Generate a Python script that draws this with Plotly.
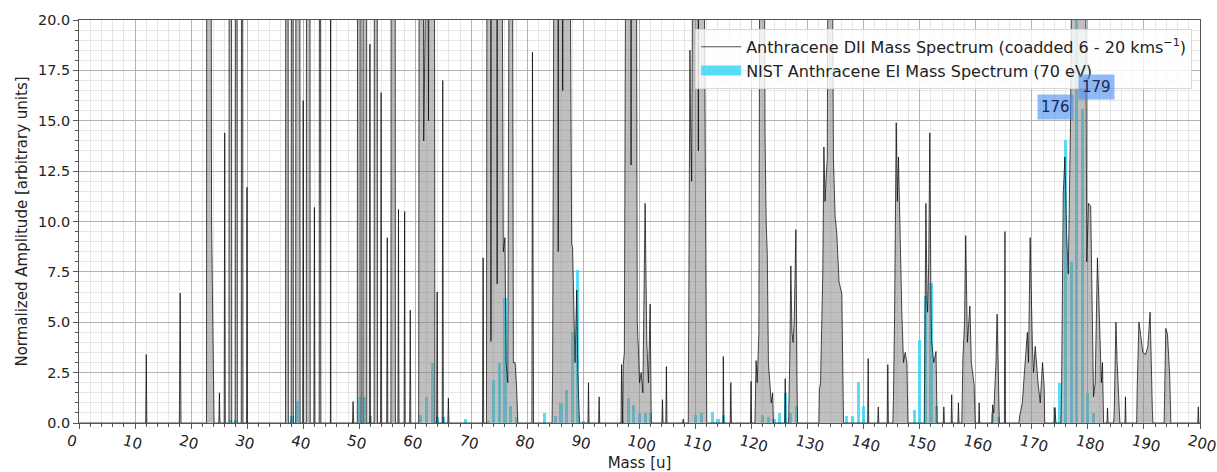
import plotly.graph_objects as go

# ---------------- DATA ----------------
# Anthracene DII mass spectrum (coadded) as (mass, amplitude) points.
# Values above 20 are off-scale (clipped at the top of the axis).
dii_00_35 = [(0, 0), (11.9, 0), (12.0, 3.4), (12.1, 0), (17.9, 0), (18.05, 6.45), (18.2, 0),
             (22.75, 0), (22.8, 30), (23.55, 30), (23.65, 10.0), (23.8, 6.1), (23.9, 5.0), (24.0, 3.1), (24.1, 0),
             (24.95, 0), (25.05, 1.5), (25.15, 0), (25.9, 0), (26.0, 14.4), (26.1, 0),
             (26.75, 0), (26.8, 30), (27.2, 30), (27.25, 0), (27.85, 0), (27.9, 30), (28.2, 30), (28.25, 0),
             (28.95, 0), (29.0, 30), (29.2, 30), (29.25, 0), (29.9, 0), (29.97, 11.7), (30.05, 0)]
dii_35_60 = [(36.85, 0), (36.9, 30), (37.3, 30), (37.35, 0), (37.85, 0), (37.9, 30), (38.2, 30), (38.25, 0),
             (38.65, 0), (38.7, 30), (39.4, 30), (39.45, 0), (39.9, 0), (40.0, 16.0), (40.1, 0),
             (40.55, 0), (40.6, 30), (41.2, 30), (41.25, 0), (41.9, 0), (42.0, 10.7), (42.1, 0),
             (42.85, 0), (42.9, 30), (43.1, 30), (43.15, 0), (44.85, 0), (44.9, 30), (44.95, 0),
             (48.8, 0), (48.9, 1.07), (49.0, 0), (49.65, 0), (49.7, 30), (50.3, 30), (50.35, 0),
             (50.65, 0), (50.7, 30), (51.3, 30), (51.35, 0), (51.8, 0), (51.9, 18.8), (52.0, 0),
             (52.65, 0), (52.7, 30), (53.2, 30), (53.25, 0), (53.8, 0), (53.9, 16.4), (54.0, 0),
             (54.9, 0), (55.0, 9.2), (55.1, 0), (55.65, 0), (55.7, 30), (56.4, 30), (56.45, 0),
             (56.9, 0), (57.0, 10.6), (57.05, 3.4), (57.1, 0), (58.0, 0), (58.1, 10.5), (58.2, 0),
             (59.0, 0), (59.1, 5.6), (59.2, 0)]
dii_60_95 = [(60.6, 0), (60.7, 30), (61.4, 30), (61.5, 14), (61.6, 30), (62.2, 30), (62.35, 15), (62.5, 30),
             (63.4, 30), (63.5, 0), (63.8, 0), (63.9, 6.5), (64.0, 0), (64.8, 0), (64.9, 17.0), (65.0, 0),
             (65.8, 0), (65.9, 1.24), (66.0, 0), (72.0, 0), (72.1, 8.2), (72.2, 0),
             (72.7, 0), (72.8, 30), (73.45, 30), (73.5, 4.05), (73.55, 30), (74.55, 30), (74.6, 6.9), (74.65, 30),
             (75.4, 30), (75.7, 8.5), (76.0, 9.2), (76.2, 3.0), (76.5, 2.0), (76.8, 30), (77.3, 30),
             (77.5, 3.0), (77.8, 3.0), (78.1, 1.6), (78.3, 0),
             (80.8, 0), (80.9, 18.4), (81.0, 10.0), (81.1, 0),
             (84.4, 0), (84.5, 2.5), (84.8, 30), (85.45, 30), (85.5, 8.5), (85.55, 30), (86.25, 30), (86.3, 16.5),
             (86.35, 30), (87.5, 30), (87.9, 8.9), (88.06, 8.7), (88.3, 4.5), (88.5, 3.0), (88.8, 6.6),
             (89.0, 2.5), (89.3, 0), (90.8, 0), (90.9, 2.0), (91.0, 0), (92.7, 0), (92.8, 1.3), (92.9, 0)]
dii_95_130 = [(96.7, 0), (96.8, 2.9), (96.9, 0), (97.0, 0), (97.1, 2.9), (97.3, 3.5), (97.6, 30), (98.45, 30),
              (98.5, 12.8), (98.55, 30), (99.4, 30), (99.6, 5.0), (99.8, 3.7), (100.0, 2.0), (100.3, 2.5),
              (100.6, 1.5), (101.0, 10.9), (101.3, 4.05), (101.6, 2.0), (101.9, 5.9), (102.1, 0),
              (104.0, 0), (104.1, 1.16), (104.2, 0), (104.7, 0), (104.8, 2.8), (104.9, 0),
              (107.7, 0), (107.8, 0.2), (107.9, 0),
              (108.7, 0), (109.0, 18.5), (109.1, 15.2), (109.3, 12.0), (109.6, 30), (110.45, 30), (110.5, 13.5),
              (110.55, 30), (111.4, 30), (111.9, 2.3), (112.0, 0),
              (114.9, 0), (114.95, 3.3), (115.05, 0), (116.2, 0), (116.3, 2.0), (116.4, 0),
              (119.8, 0), (119.9, 2.07), (120.0, 0), (120.6, 0), (120.8, 3.1), (121.0, 2.0), (121.3, 4.5),
              (121.5, 30), (122.2, 30), (122.4, 14.2), (122.6, 10.0), (122.8, 8.35), (123.0, 3.0), (123.3, 1.6),
              (123.5, 1.0), (123.75, 1.5), (123.9, 0),
              (125.9, 0), (126.0, 2.2), (126.1, 0), (126.6, 0), (126.8, 3.0), (127.0, 7.8), (127.2, 4.5),
              (127.4, 4.0), (127.6, 5.0), (127.9, 9.6), (128.1, 2.0), (128.2, 0)]
dii_130_165 = [(132.0, 0), (132.1, 1.65), (132.3, 2.0), (132.7, 7.4), (132.9, 13.7), (133.1, 11.0), (133.3, 12.2),
               (133.5, 13.1), (133.7, 30), (134.3, 30), (134.6, 13.1), (134.9, 10.25), (135.2, 9.4), (135.6, 7.0),
               (136.1, 6.4), (136.2, 4.0), (136.4, 0), (140.7, 0), (140.8, 3.2), (140.9, 0),
               (142.5, 0), (142.6, 0.8), (142.7, 0),
               (144.2, 0), (144.3, 2.9), (144.4, 0), (145.2, 0), (145.3, 1.1), (145.5, 5.0), (145.8, 14.9),
               (146.0, 11.0), (146.2, 13.2), (146.5, 9.0), (146.8, 5.5), (147.1, 3.0), (147.4, 3.5), (147.7, 3.0),
               (147.9, 0),
               (150.8, 0), (151.1, 10.9), (151.3, 6.0), (151.4, 5.5), (151.6, 8.0), (151.8, 14.4), (152.0, 6.0),
               (152.1, 4.1), (152.5, 3.0), (152.9, 3.55), (153.1, 0),
               (154.2, 0), (154.3, 0.8), (154.4, 0), (155.6, 0), (155.7, 1.4), (155.8, 0),
               (156.8, 0), (156.9, 1.0), (157.0, 0),
               (157.5, 0), (157.7, 3.2), (158.0, 5.0), (158.2, 9.3), (158.5, 4.0), (158.95, 5.8), (159.2, 3.0),
               (159.7, 1.9), (159.9, 0), (160.5, 0), (160.6, 1.0), (160.7, 0),
               (162.9, 0), (163.0, 0.9), (163.2, 0.5), (163.6, 3.0), (163.8, 5.4), (164.0, 1.8), (164.2, 0),
               (165.1, 0), (165.2, 9.5), (165.3, 0)]
dii_165_200 = [(167.7, 0), (167.8, 0.3), (168.3, 1.0), (168.65, 2.4), (169.2, 4.5), (169.4, 3.0), (169.7, 9.2),
               (170.1, 3.8), (170.3, 2.5), (170.6, 3.8), (170.9, 2.5), (171.1, 2.0), (171.5, 1.0), (171.9, 3.0),
               (172.2, 1.8), (172.3, 0),
               (174.0, 0), (174.1, 0.75), (174.3, 0), (175.2, 0), (175.3, 1.5), (175.6, 11.4), (175.9, 13.2),
               (176.2, 9.4), (176.5, 7.4), (176.9, 14.9), (177.3, 30), (179.5, 30), (179.8, 8.0), (180.1, 10.9),
               (180.5, 10.75), (180.8, 4.0), (181.0, 1.3), (181.3, 2.0), (181.7, 8.2), (182.1, 4.8), (182.4, 2.0),
               (182.6, 3.0), (182.8, 0), (183.4, 0), (183.5, 0.75), (183.6, 0),
               (184.6, 0), (184.7, 0.6), (185.0, 5.0), (185.2, 3.1), (185.6, 1.0), (185.7, 0),
               (186.6, 0), (186.7, 1.3), (186.8, 0),
               (188.7, 0), (188.8, 1.8), (189.1, 5.0), (189.4, 4.4), (189.8, 3.5), (190.3, 3.4), (190.7, 3.8),
               (191.1, 5.5), (191.3, 2.0), (191.5, 0.6), (191.6, 0),
               (193.6, 0), (193.9, 4.7), (194.2, 4.4), (194.6, 2.3), (194.7, 0.6), (194.8, 0),
               (199.6, 0), (199.7, 0.8), (199.8, 0), (200, 0)]

# NIST Anthracene EI mass spectrum (70 eV), normalised so that m/z 178 = 100
nist_mass = [27, 28, 38, 39, 50, 51, 52, 61, 62, 63, 64, 65, 69, 73, 74, 75, 76, 77, 78,
             83, 85, 86, 87, 88, 89, 90, 97, 98, 99, 100, 101, 102,
             110, 111, 113, 114, 115, 122, 123, 124, 125, 126, 127, 128,
             137, 138, 139, 140, 149, 150, 151, 152, 153, 163, 164,
             174, 175, 176, 177, 178, 179, 180, 181]
nist_amp = [0.15, 0.15, 0.33, 1.07, 1.3, 1.3, 0.35, 0.4, 1.3, 3.0, 0.3, 0.3, 0.2, 0.1, 2.15, 3.0, 6.2, 0.85, 0.3,
            0.5, 0.35, 1.0, 1.65, 4.5, 7.6, 0.1, 0.1, 1.24, 0.9, 0.5, 0.5, 0.5,
            0.4, 0.5, 0.55, 0.2, 0.4, 0.4, 0.3, 0.2, 0.5, 1.5, 0.5, 0.85,
            0.35, 0.35, 2.05, 0.85, 0.65, 4.1, 6.3, 6.95, 0.85, 0.5, 0.3,
            0.8, 2.0, 14.06, 8.0, 100.0, 15.6, 1.5, 0.5]

label_text = ["176", "179"]
label_pos = [(174.3, 15.67), (181.6, 16.67)]

x_ticks = list(range(0, 201, 10))
y_ticks = [0, 2.5, 5, 7.5, 10, 12.5, 15, 17.5, 20]

# ---------------- FIGURE ----------------
segments = [dii_00_35, dii_35_60, dii_60_95, dii_95_130, dii_130_165, dii_165_200]
dii_mass = [p[0] for seg in segments for p in seg]
dii_amp = [p[1] for seg in segments for p in seg]

FONT = "DejaVu Sans"
TXT = "#222222"
CYAN = "rgba(60,215,245,0.85)"
NAME_DII = "Anthracene DII Mass Spectrum (coadded 6 - 20 kms<sup>\u22121</sup>)"
NAME_NIST = "NIST Anthracene EI Mass Spectrum (70 eV)"

fig = go.Figure()
fig.add_trace(go.Scatter(x=dii_mass, y=dii_amp, mode="lines", line=dict(width=0, color="rgba(0,0,0,0)"),
                         fill="tozeroy", fillcolor="rgba(128,128,128,0.5)", showlegend=False, hoverinfo="skip"))
fig.add_trace(go.Bar(x=nist_mass, y=nist_amp, width=0.55, marker=dict(color=CYAN, line=dict(width=0)),
                     name=NAME_NIST, showlegend=False))
fig.add_trace(go.Scatter(x=dii_mass, y=dii_amp, mode="lines", line=dict(width=1, color="rgba(0,0,0,0.7)"),
                         name=NAME_DII, legendrank=1))
# legend-only swatch for the NIST bars (wide rectangle like the reference)
fig.add_trace(go.Scatter(x=[None], y=[None], mode="lines", line=dict(width=11, color=CYAN),
                         name=NAME_NIST, legendrank=2))

for t, (mx, my) in zip(label_text, label_pos):
    fig.add_annotation(x=mx, y=my, xref="x", yref="y", text=t, showarrow=False,
                       font=dict(family=FONT, size=15, color="#1a2a55"),
                       bgcolor="rgba(70,140,240,0.6)", borderpad=3)

fig.update_layout(
    width=1217, height=472,
    margin=dict(l=79, r=17, t=20, b=49),
    paper_bgcolor="white", plot_bgcolor="white",
    font=dict(family=FONT, size=14.4, color=TXT),
    bargap=0,
    legend=dict(x=0.993, y=0.978, xanchor="right", yanchor="top",
                bgcolor="rgba(255,255,255,0.8)", bordercolor="#d8d8d8", borderwidth=1,
                font=dict(family=FONT, size=16, color=TXT), tracegroupgap=0,
                itemwidth=40),
)
fig.update_xaxes(
    range=[0, 200], tickvals=x_ticks, ticktext=[str(v) for v in x_ticks], tickangle=15,
    tickfont=dict(family=FONT, size=15, color=TXT), automargin=False,
    ticklabelshift=-11, ticklabelstandoff=-2, ticklabeloverflow="allow",
    showgrid=True, gridcolor="#b4b4b4", gridwidth=1,
    minor=dict(dtick=2, showgrid=True, gridcolor="#e6e6e6", ticks="outside", ticklen=3, tickcolor="#555"),
    ticks="outside", ticklen=5, tickcolor="#555",
    showline=True, linecolor="#555", linewidth=1, mirror=True, zeroline=False,
    title=dict(text="Mass [u]", font=dict(family=FONT, size=15, color=TXT), standoff=4),
)
fig.update_yaxes(
    range=[0, 20], tickvals=y_ticks, tickformat=".1f", automargin=False,
    showgrid=True, gridcolor="#b4b4b4", gridwidth=1,
    minor=dict(dtick=0.5, showgrid=True, gridcolor="#e6e6e6", ticks="outside", ticklen=3, tickcolor="#555"),
    ticks="outside", ticklen=5, tickcolor="#555",
    showline=True, linecolor="#555", linewidth=1, mirror=True, zeroline=False,
    title=dict(text="Normalized Amplitude [arbitrary units]", font=dict(family=FONT, size=15, color=TXT), standoff=6),
)

fig.write_html("out.html")
